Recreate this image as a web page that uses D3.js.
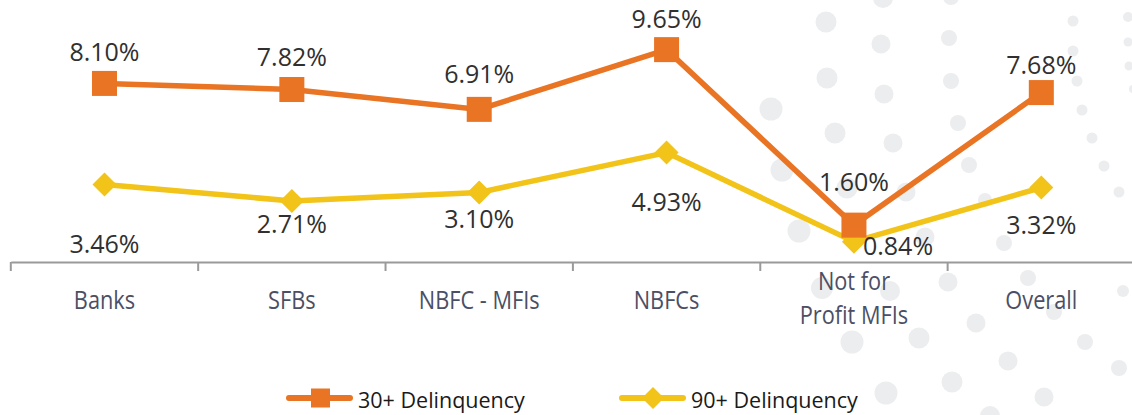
<!DOCTYPE html>
<html><head><meta charset="utf-8">
<script src="https://cdn.jsdelivr.net/npm/d3@7"></script>
<style>
html,body{margin:0;padding:0;background:#fff;}
svg{display:block;}
text{font-family:"Open Sans",sans-serif;}
</style></head>
<body><svg id="chart" width="1132" height="415"></svg>
<script>
const categories = ["Banks", "SFBs", "NBFC - MFIs", "NBFCs", "Not for\nProfit MFIs", "Overall"];
const delinq30 = [8.10, 7.82, 6.91, 9.65, 1.60, 7.68];
const delinq90 = [3.46, 2.71, 3.10, 4.93, 0.84, 3.32];
const seriesNames = ["30+ Delinquency", "90+ Delinquency"];

// decorative background dots [x, y, r]
const bgDots = [
  [826,22,10.5],[881,44,9.5],[949,38,8],[1073,21,5.5],[1128,17,5],[883,-2,10],[951,-3,8],
  [827,78,10.5],[884,94,9.5],[951,81,8],[1073,51,5.5],[1128,42,4.5],[1077,81,5.5],[1129,66,4.5],[1133,89,4],
  [771,109,11.5],[835,133,10.5],[893,143,9.5],[958,123,8],[1082,110,5.5],[1092,138,5.5],
  [782,170,11.5],[847,188,10.5],[906,192,9.5],[969,165,8],[1104,166,5.5],[1119,192,5.5],[985,200,7],
  [799,231,11.5],[925,237,9.5],[1004,243,8],
  [822,288,11],[890,291,10],[948,282,9.5],[1028,278,8],[1123,291,6],
  [976,323,9.5],[1054,312,8],[852,342,11.5],[919,338,10.5],[1085,342,8],
  [1008,361,9.5],[1119,368,8],[886,393,11.5],[952,382,10.5],[1044,397,9.5],[990,416,10]
];

const W = 1132, H = 415;
const svg = d3.select("#chart");
const orange = "#E87424", yellow = "#F2C318";

svg.append("g").selectAll("circle").data(bgDots).enter().append("circle")
  .attr("cx", d => d[0]).attr("cy", d => d[1]).attr("r", d => d[2]).attr("fill", "#ecedee");

const x = d3.scaleBand().domain(categories).range([10.8, 1135]).padding(0);
const y = d3.scaleLinear().domain([0, 10]).range([260, 42]);
const cx = c => x(c) + x.bandwidth() / 2;

// axis
const axisY = 262;
const axis = d3.axisBottom(x).tickSize(0).tickFormat("");
const gAxis = svg.append("g").attr("transform", `translate(0,${axisY})`).call(axis);
gAxis.select(".domain").attr("stroke", "#9a9a9a").attr("stroke-width", 2);
const bounds = categories.map(c => x(c)).concat([x(categories[categories.length-1]) + x.bandwidth()]);
gAxis.selectAll("line.bt").data(bounds).enter().append("line")
  .attr("x1", d => d).attr("x2", d => d).attr("y1", 0).attr("y2", 9)
  .attr("stroke", "#9a9a9a").attr("stroke-width", 2);

// category labels
categories.forEach(c => {
  const lines = c.split("\n");
  const base = lines.length === 1 ? 308.7 : 289.5;
  const t = svg.append("text")
    .attr("transform", `translate(${cx(c)},${base}) scale(0.87,1)`)
    .attr("text-anchor", "middle").attr("fill", "#4b4f65").attr("font-size", 25);
  lines.forEach((l, i) => t.append("tspan").attr("x", 0).attr("y", i * 34.5).text(l));
});

const line = d3.line().x((d, i) => cx(categories[i])).y(d => y(d));

svg.append("path").datum(delinq90).attr("d", line).attr("fill", "none")
  .attr("stroke", yellow).attr("stroke-width", 5.5);
svg.append("path").datum(delinq30).attr("d", line).attr("fill", "none")
  .attr("stroke", orange).attr("stroke-width", 5.5);

const diamond = s => `M0,${-s}L${s},0L0,${s}L${-s},0Z`;

svg.selectAll("path.d90").data(delinq90).enter().append("path")
  .attr("d", diamond(12)).attr("fill", yellow)
  .attr("transform", (d, i) => `translate(${cx(categories[i])},${y(d)})`);
svg.selectAll("rect.s30").data(delinq30).enter().append("rect")
  .attr("width", 25).attr("height", 25).attr("fill", orange)
  .attr("x", (d, i) => cx(categories[i]) - 12.5).attr("y", d => y(d) - 12.5);

// data labels
const fmt = d => d.toFixed(2) + "%";
const labelDy30 = [-22, -24, -26, -22, -34, -19];
svg.selectAll("text.l30").data(delinq30).enter().append("text")
  .attr("x", (d, i) => cx(categories[i])).attr("y", (d, i) => y(d) + labelDy30[i])
  .attr("text-anchor", "middle").attr("font-size", 25)
  .attr("fill", "#303030").text(fmt);
const labelDy90 = [68, 32, 36, 58, 13, 46];
const labelDx90 = [0, 0, 0, 0, 9, 0];
svg.selectAll("text.l90").data(delinq90).enter().append("text")
  .attr("x", (d, i) => cx(categories[i]) + labelDx90[i]).attr("y", (d, i) => y(d) + labelDy90[i])
  .attr("text-anchor", (d, i) => labelDx90[i] ? "start" : "middle")
  .attr("font-size", 25).attr("fill", "#303030").text(fmt);

// legend
const legend = [
  {name: seriesNames[0], color: orange, shape: "square", x: 287},
  {name: seriesNames[1], color: yellow, shape: "diamond", x: 620}
];
const ly = 398;
legend.forEach(l => {
  const g = svg.append("g");
  g.append("line").attr("x1", l.x + 2).attr("x2", l.x + 63).attr("y1", ly).attr("y2", ly)
    .attr("stroke", l.color).attr("stroke-width", 6).attr("stroke-linecap", "round");
  if (l.shape === "square") {
    g.append("rect").attr("x", l.x + 24).attr("y", ly - 9.5).attr("width", 19).attr("height", 19).attr("fill", l.color);
  } else {
    g.append("path").attr("d", diamond(11)).attr("fill", l.color).attr("transform", `translate(${l.x + 33},${ly})`);
  }
  g.append("text").attr("x", l.x + 71).attr("y", 408).attr("font-size", 21.5)
    .attr("fill", "#1a1a1a").text(l.name);
});
</script></body></html>
